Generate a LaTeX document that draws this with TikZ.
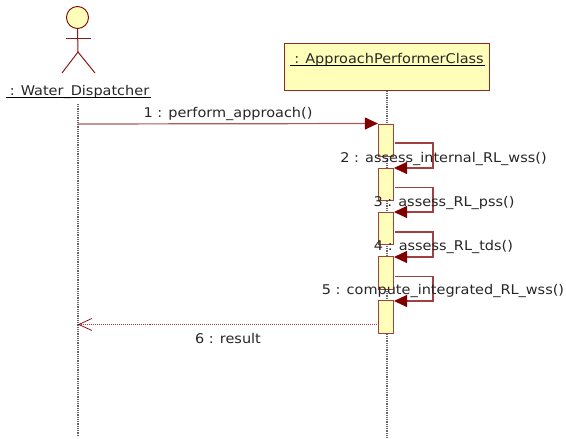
\documentclass[tikz,border=0pt]{standalone}
\usepackage{fontspec}
\setmainfont[FakeStretch=1.08]{DejaVu Sans}
\usetikzlibrary{arrows.meta}
\definecolor{umlred}{RGB}{128,0,0}
\definecolor{umlfill}{RGB}{255,255,185}
\tikzset{
  x=1pt,y=-1pt,
  lifeline/.style={draw=black!60,line width=1.1pt,dash pattern=on 1pt off 0.8pt},
  activation/.style={draw=umlred!75!white,fill=umlfill,line width=1.2pt,minimum width=15pt,inner sep=0pt,anchor=north},
  objbox/.style={draw=umlred!85!white,fill=umlfill,line width=1.2pt,inner sep=0pt,anchor=north west,minimum width=205.5pt,minimum height=47pt},
  limb/.style={draw=umlred!90!white,line width=1pt},
  msg/.style={draw=umlred!65!white,line width=1.2pt,-{Triangle[length=13pt,width=12pt,color=umlred]}},
  selfmsg/.style={draw=umlred!75!white,line width=1.1pt,-{Triangle[length=13pt,width=12pt,color=umlred]}},
  retmsg/.style={draw=umlred!75!white,line width=0.8pt,dash pattern=on 1pt off 1pt,-{Straight Barb[length=13pt,width=12pt,line width=0.7pt,color=umlred]}},
  lbl/.style={font=\fontsize{13.4pt}{16pt}\selectfont,text=black!85,inner sep=0pt,anchor=base},
  titlelbl/.style={lbl}
}
\begin{document}
\begin{tikzpicture}
\useasboundingbox (0,0) rectangle (566,439);
% actor
\node[circle,draw=umlred,fill=umlfill,line width=0.9pt,minimum size=22pt,inner sep=0pt] (head) at (77.5,17.5) {};
\coordinate (hip) at (78,52);
\coordinate (armL) at (66,38);
\coordinate (armR) at (91,38);
\coordinate (footL) at (62,73);
\coordinate (footR) at (95,73);
\draw[limb] (head.south) -- (hip);
\draw[limb] (armL) -- (armR);
\draw[limb] (footL) -- (hip) -- (footR);
\node[titlelbl] (actorname) at (79.5,95.5) {: Water\_Dispatcher};
\coordinate (aulL) at (6,97);
\coordinate (aulR) at (151,97);
\draw[black,line width=0.8pt] (aulL) -- (aulR);
% object
\node[objbox] (obj) at (283.5,43) {};
\node[titlelbl] (objname) at (389,63.5) {: ApproachPerformerClass};
\coordinate (oulL) at (290,65);
\coordinate (oulR) at (485,65);
\draw[black,line width=0.8pt] (oulL) -- (oulR);
% lifelines
\coordinate (lifeA) at (78,104);
\coordinate (endA) at (78,437);
\coordinate (endB) at (387,437);
\draw[lifeline] (lifeA) -- (endA);
\draw[lifeline] (obj.south -| endB) -- (endB);
% activations
\node[activation,minimum height=32.5pt] (a1) at (386,123.5) {};
\node[activation,minimum height=32.5pt] (a2) at (386,167.5) {};
\node[activation,minimum height=32.5pt] (a3) at (386,211.5) {};
\node[activation,minimum height=32.5pt] (a4) at (386,256) {};
\node[activation,minimum height=33pt] (a5) at (386,300) {};
% messages
\coordinate (m1s) at (78,124);
\draw[msg] (m1s) -- (a1.north west);
\coordinate (l1a) at (395,143);
\coordinate (l1b) at (433,143);
\coordinate (l1c) at (433,168);
\coordinate (l1d) at (394,168);
\draw[selfmsg] (l1a) -- (l1b) -- (l1c) -- (l1d);
\coordinate (l2a) at (395,187.5);
\coordinate (l2b) at (433,187.5);
\coordinate (l2c) at (433,212);
\coordinate (l2d) at (394,212);
\draw[selfmsg] (l2a) -- (l2b) -- (l2c) -- (l2d);
\coordinate (l3a) at (395,232);
\coordinate (l3b) at (433,232);
\coordinate (l3c) at (433,257);
\coordinate (l3d) at (394,257);
\draw[selfmsg] (l3a) -- (l3b) -- (l3c) -- (l3d);
\coordinate (l4a) at (395,276.5);
\coordinate (l4b) at (433,276.5);
\coordinate (l4c) at (433,301);
\coordinate (l4d) at (394,301);
\draw[selfmsg] (l4a) -- (l4b) -- (l4c) -- (l4d);
\coordinate (m6s) at (378.5,324.5);
\coordinate (m6e) at (78,324.5);
\draw[retmsg] (m6s) -- (m6e);
% labels
\node[lbl] (t1) at (228,117.5) {1 : perform\_approach()};
\node[lbl] (t2) at (443.5,162.5) {2 : assess\_internal\_RL\_wss()};
\node[lbl] (t3) at (444,206.5) {3 : assess\_RL\_pss()};
\node[lbl] (t4) at (443.5,250.5) {4 : assess\_RL\_tds()};
\node[lbl] (t5) at (443,294.5) {5 : compute\_integrated\_RL\_wss()};
\node[lbl] (t6) at (228,343.5) {6 : result};
\end{tikzpicture}
\end{document}
